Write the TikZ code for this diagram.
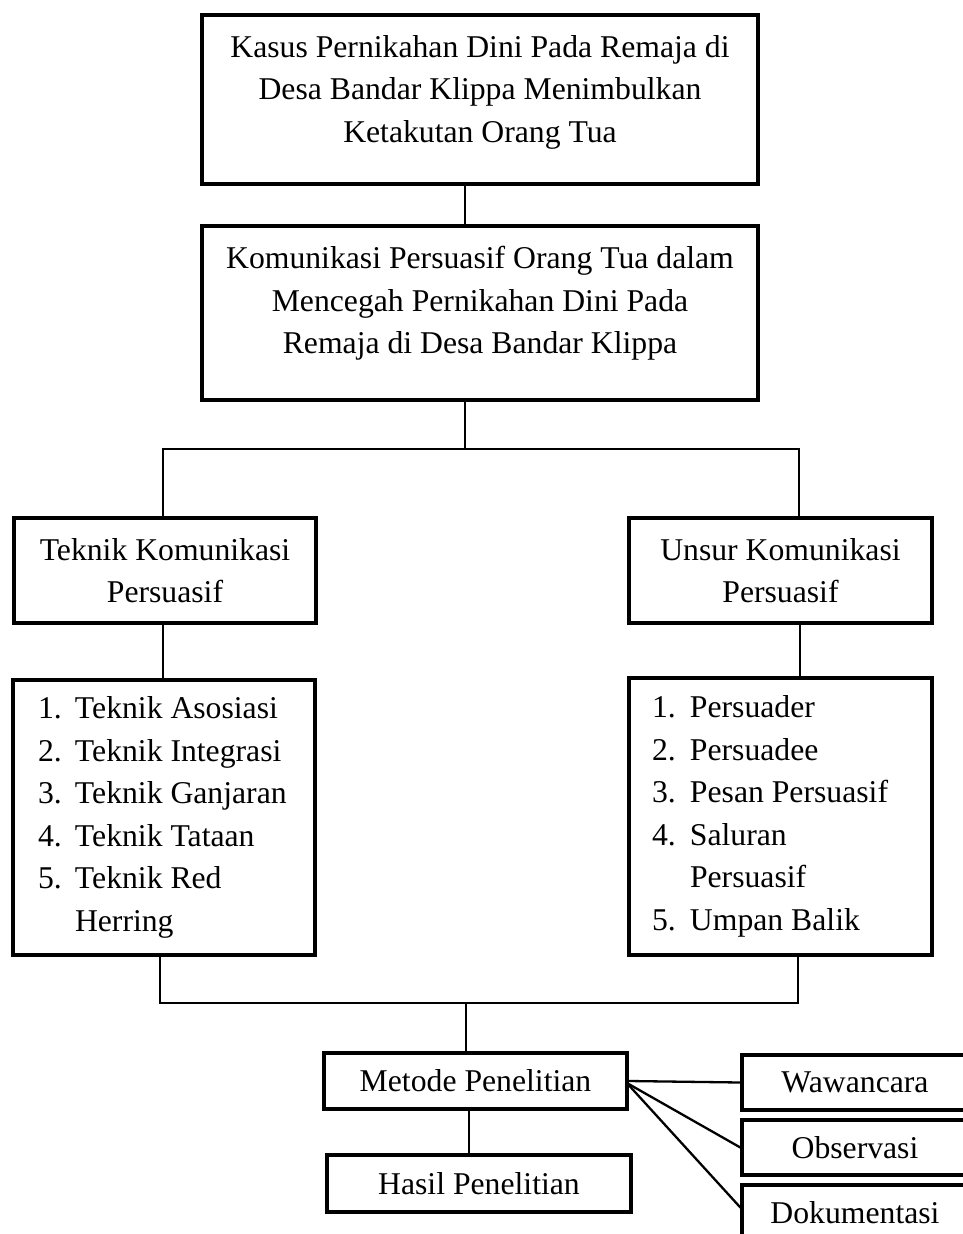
\documentclass[tikz,border=0pt]{standalone}
\usepackage{fontspec}
\setmainfont{Liberation Serif}
\newcommand{\mytopbox}[3]{\parbox[c][#2][t]{#1}{\centering\vspace*{20.3pt}#3}}
\newcommand{\itmL}[1]{\makebox[37pt][l]{#1}}
\newcommand{\itmR}[1]{\makebox[38pt][l]{#1}}
\begin{document}
\begin{tikzpicture}[x=1pt,y=-1pt,
  every node/.style={font=\fontsize{31.7}{42.5}\selectfont, inner sep=0pt},
  box/.style={draw, line width=3.3pt, inner sep=0pt},
  link/.style={line width=2pt},
  fan/.style={line width=2.3pt}
]
\useasboundingbox (0,0) rectangle (963,1234);
\clip (0,0) rectangle (963,1234);

\node[box] (kasus) at (480,99.5) {\mytopbox{556pt}{169pt}{Kasus Pernikahan Dini Pada Remaja di\\Desa Bandar Klippa Menimbulkan\\Ketakutan Orang Tua}};
\node[box] (kom) at (480,313) {\mytopbox{556pt}{174pt}{Komunikasi Persuasif Orang Tua dalam\\Mencegah Pernikahan Dini Pada\\Remaja di Desa Bandar Klippa}};

\node[box, minimum width=302pt, minimum height=105pt, align=center] (tek) at (165,570.5) {Teknik Komunikasi\\Persuasif};
\node[box, minimum width=303pt, minimum height=105pt, align=center] (uns) at (780.5,570.5) {Unsur Komunikasi\\Persuasif};

\node[box, minimum height=275pt, inner xsep=25pt, text width=252pt, align=flush left] (tl) at (164,817.5)
  {\itmL{1.}Teknik Asosiasi\\\itmL{2.}Teknik Integrasi\\\itmL{3.}Teknik Ganjaran\\\itmL{4.}Teknik Tataan\\\itmL{5.}Teknik Red\\\hspace*{37pt}Herring};
\node[box, minimum height=277pt, inner xsep=23pt, text width=257pt, align=flush left] (ur) at (780.5,816.5)
  {\itmR{1.}Persuader\\\itmR{2.}Persuadee\\\itmR{3.}Pesan Persuasif\\\itmR{4.}Saluran\\\hspace*{38pt}Persuasif\\\itmR{5.}Umpan Balik};

\node[box, minimum width=303pt, minimum height=56pt] (met) at (475.5,1081) {Metode Penelitian};
\node[box, minimum width=304pt, minimum height=57pt] (has) at (479,1183.5) {Hasil Penelitian};

\node[box, minimum width=226pt, minimum height=55pt] (waw) at (855,1082.5) {Wawancara};
\node[box, minimum width=226pt, minimum height=55pt] (obs) at (855,1147.5) {Observasi};
\node[box, minimum width=226pt, minimum height=55pt] (dok) at (855,1212.5) {Dokumentasi};

\coordinate (j1) at (465,449);
\coordinate (j2) at (466,1003);

\draw[link] ([xshift=-15pt]kasus.south) -- ([xshift=-15pt]kom.north);
\draw[link] ([xshift=-15pt]kom.south) -- (j1);
\draw[link] ([xshift=-2pt]tek.north) |- (j1) -| ([xshift=18.5pt]uns.north);
\draw[link] ([xshift=-2pt]tek.south) -- ([xshift=-1pt]tl.north);
\draw[link] ([xshift=19pt]uns.south) -- ([xshift=19pt]ur.north);
\draw[link] ([xshift=-4pt]tl.south) |- (j2) -| ([xshift=17.5pt]ur.south);
\draw[link] (j2) -- ([xshift=-9.5pt]met.north);
\draw[link] ([xshift=-6.5pt]met.south) -- ([xshift=-10pt]has.north);
\draw[fan] (met.east) -- (waw.west);
\draw[fan] ([yshift=-3pt]met.east) -- (obs.west);
\draw[fan] ([yshift=-4pt]met.east) -- ([yshift=5pt]dok.west);
\end{tikzpicture}
\end{document}
